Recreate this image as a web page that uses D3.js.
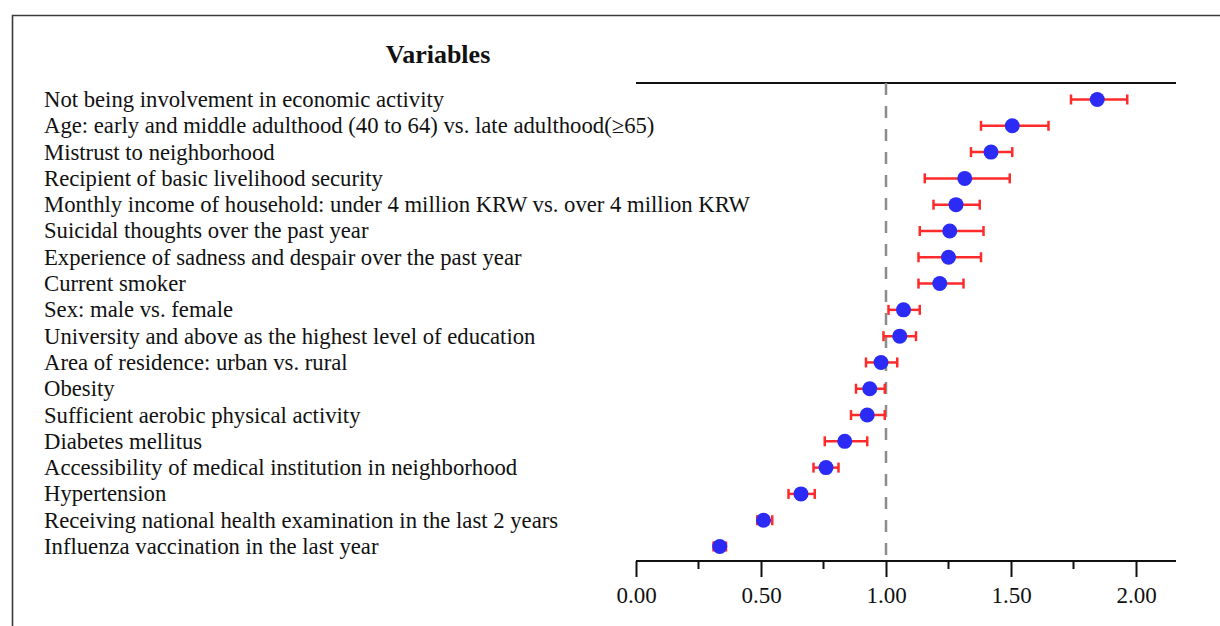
<!DOCTYPE html>
<html>
<head>
<meta charset="utf-8">
<script src="https://cdn.jsdelivr.net/npm/d3@7"></script>
<style>
  body { margin: 0; background: #fff; }
  svg { display: block; font-family: "Liberation Serif", "Times New Roman", serif; }
</style>
</head>
<body>
<svg id="chart"></svg>
<script>
// variables, top to bottom
var variables = [
    "Not being involvement in economic activity",
    "Age: early and middle adulthood (40 to 64) vs. late adulthood(\u226565)",
    "Mistrust to neighborhood",
    "Recipient of basic livelihood security",
    "Monthly income of household: under 4 million KRW vs. over 4 million KRW",
    "Suicidal thoughts over the past year",
    "Experience of sadness and despair over the past year",
    "Current smoker",
    "Sex: male vs. female",
    "University and above as the highest level of education",
    "Area of residence: urban vs. rural",
    "Obesity",
    "Sufficient aerobic physical activity",
    "Diabetes mellitus",
    "Accessibility of medical institution in neighborhood",
    "Hypertension",
    "Receiving national health examination in the last 2 years",
    "Influenza vaccination in the last year"
];
var estimates = [1.845, 1.505, 1.42, 1.315, 1.28, 1.255, 1.25, 1.215, 1.07, 1.055, 0.98, 0.935, 0.925, 0.835, 0.76, 0.66, 0.51, 0.335];
var lower     = [1.74, 1.38, 1.34, 1.155, 1.19, 1.135, 1.13, 1.13, 1.01, 0.99, 0.92, 0.88, 0.86, 0.755, 0.71, 0.61, 0.485, 0.31];
var upper     = [1.965, 1.65, 1.505, 1.495, 1.375, 1.39, 1.38, 1.31, 1.135, 1.12, 1.045, 0.995, 0.995, 0.925, 0.81, 0.715, 0.545, 0.36];
var tickValues = [0, 0.5, 1, 1.5, 2];
var minorTicks = [0.25, 0.75, 1.25, 1.75];
var refValue = 1;

var width = 1220, height = 626;
var svg = d3.select("#chart").attr("width", width).attr("height", height);

// frame (cut off at right and bottom like the source image)
svg.append("path")
    .attr("d", "M12.5," + (height + 5) + " V15.5 H" + (width + 5))
    .attr("fill", "none")
    .attr("stroke", "#3a3a3a")
    .attr("stroke-width", 1.6);

var x = d3.scaleLinear().domain([0, 2.16]).range([636, 1176]);
var y = d3.scalePoint().domain(d3.range(variables.length)).range([99.5, 546.5]);

var axisY = 561, topY = 83;

// top rule
svg.append("line")
    .attr("x1", x(0)).attr("x2", x(2.16))
    .attr("y1", topY).attr("y2", topY)
    .attr("stroke", "#111").attr("stroke-width", 2);

// heading
svg.append("text")
    .attr("x", 438).attr("y", 63)
    .attr("text-anchor", "middle")
    .attr("font-size", 26).attr("font-weight", "bold")
    .attr("fill", "#111")
    .text("Variables");

// labels
svg.append("g").selectAll("text")
    .data(variables)
    .join("text")
    .attr("x", 44)
    .attr("y", (d, i) => y(i) + 7.5)
    .attr("font-size", 22.7)
    .attr("fill", "#111")
    .text(d => d);

// reference line
svg.append("line")
    .attr("x1", x(refValue)).attr("x2", x(refValue))
    .attr("y1", topY).attr("y2", axisY)
    .attr("stroke", "#8c8c8c").attr("stroke-width", 2.5)
    .attr("stroke-dasharray", "12,11");

// x axis
var xAxis = d3.axisBottom(x)
    .tickValues(tickValues)
    .tickSize(16)
    .tickPadding(10)
    .tickFormat(d3.format(".2f"));

var gx = svg.append("g")
    .attr("transform", `translate(0,${axisY})`)
    .call(xAxis);
gx.select(".domain")
    .attr("d", `M${x(0)},0H${x(2.16)}`)
    .attr("stroke", "#111").attr("stroke-width", 2);
gx.selectAll(".tick line").attr("stroke", "#111").attr("stroke-width", 2);
gx.selectAll(".tick text")
    .attr("font-size", 23)
    .attr("font-family", "Liberation Serif, Times New Roman, serif")
    .attr("fill", "#111");

gx.selectAll(".minor")
    .data(minorTicks)
    .join("line")
    .attr("class", "minor")
    .attr("x1", d => x(d)).attr("x2", d => x(d))
    .attr("y1", 0).attr("y2", 8)
    .attr("stroke", "#111").attr("stroke-width", 2);

// error bars
var bars = svg.append("g")
    .attr("stroke", "#ff2a2a")
    .attr("stroke-width", 2.5);

bars.selectAll(".whisker")
    .data(estimates)
    .join("line")
    .attr("class", "whisker")
    .attr("x1", (d, i) => x(lower[i]))
    .attr("x2", (d, i) => x(upper[i]))
    .attr("y1", (d, i) => y(i)).attr("y2", (d, i) => y(i));

bars.selectAll(".capl")
    .data(estimates)
    .join("line")
    .attr("class", "capl")
    .attr("x1", (d, i) => x(lower[i])).attr("x2", (d, i) => x(lower[i]))
    .attr("y1", (d, i) => y(i) - 5).attr("y2", (d, i) => y(i) + 5);

bars.selectAll(".capu")
    .data(estimates)
    .join("line")
    .attr("class", "capu")
    .attr("x1", (d, i) => x(upper[i])).attr("x2", (d, i) => x(upper[i]))
    .attr("y1", (d, i) => y(i) - 5).attr("y2", (d, i) => y(i) + 5);

// point estimates
svg.append("g").selectAll("circle")
    .data(estimates)
    .join("circle")
    .attr("cx", d => x(d))
    .attr("cy", (d, i) => y(i))
    .attr("r", 7.5)
    .attr("fill", "#2b2bf5");
</script>
</body>
</html>
